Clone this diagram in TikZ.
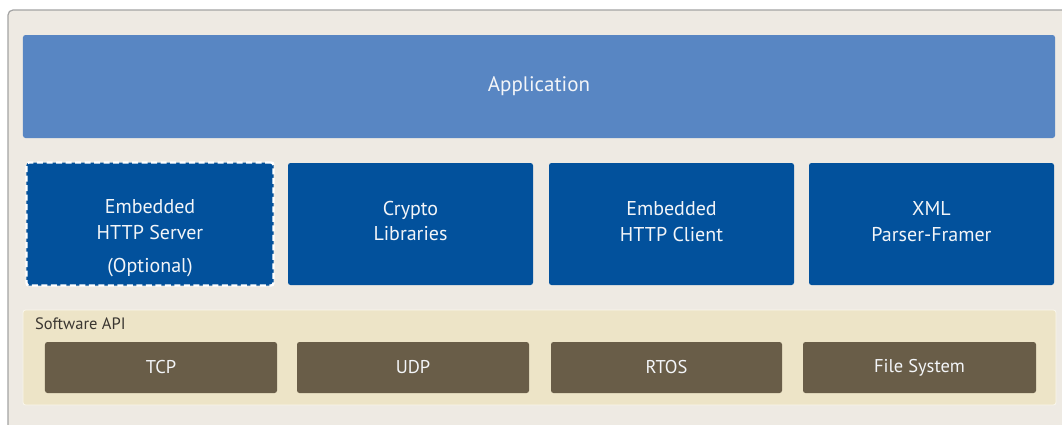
\documentclass[tikz,border=0pt]{standalone}
\usepackage{fontspec}
\setmainfont{PT Sans}
\definecolor{panelbg}{HTML}{EEEAE3}
\definecolor{panelline}{HTML}{A4A4A4}
\definecolor{appblue}{HTML}{5886C3}
\definecolor{modblue}{HTML}{02519C}
\definecolor{apibg}{HTML}{EDE4C7}
\definecolor{osbrown}{HTML}{695D48}
\definecolor{lighttext}{HTML}{F3F5F8}
\definecolor{darktext}{HTML}{3A3631}
\tikzset{
  panel/.style={fill=panelbg, draw=panelline, line width=1.2bp, rounded corners=5bp},
  box/.style={inner sep=0pt, rounded corners=2.5bp},
  appbox/.style={box, fill=appblue},
  modbox/.style={box, fill=modblue},
  optbox/.style={modbox, draw=white, line width=2.4bp, dash pattern=on 6bp off 3.5bp},
  apibox/.style={box, fill=apibg, draw=white!70!apibg, line width=0.8bp},
  osbox/.style={box, fill=osbrown},
  lbl/.style={text=lighttext, align=center, inner sep=0pt},
  applbl/.style={lbl, font=\fontsize{21bp}{26bp}\selectfont},
  modlbl/.style={lbl, font=\fontsize{20bp}{25.5bp}\selectfont},
  oslbl/.style={lbl, font=\fontsize{18.5bp}{22bp}\selectfont},
  small/.style={text=darktext, font=\fontsize{16.5bp}{18bp}\selectfont, inner sep=0pt}
}
\begin{document}
\begin{tikzpicture}[x=1bp, y=-1bp]
\useasboundingbox (0,0) rectangle (1062,424);
\clip (0,0) rectangle (1062,424);
% outer frame
\fill[white] (0,0) rectangle (1062,424);
\draw[panel] (8,10) rectangle (1080,440);

% application layer
\node[appbox, minimum width=1032bp, minimum height=103bp] (app) at (539,86.5) {};
\node[applbl] (apptext) at (app.center) {Application};

% middleware modules
\node[optbox, minimum width=247bp, minimum height=123bp] (srv) at (150,224) {};
\node[modbox, minimum width=245bp, minimum height=122bp] (crypto) at (410.5,224) {};
\node[modbox, minimum width=245bp, minimum height=122bp] (client) at (671.5,224) {};
\node[modbox, minimum width=245bp, minimum height=122bp] (xml) at (931.5,224) {};

\node[modlbl] (srvtext) at (150,238.5) {Embedded\\HTTP Server\\[8bp](Optional)};
\node[modlbl] (cryptotext) at (410.5,221) {Crypto\\Libraries};
\node[modlbl] (clienttext) at (671.5,221.5) {Embedded\\HTTP Client};
\node[modlbl] (xmltext) at (931.5,221.5) {XML\\Parser-Framer};

% software API
\node[apibox, minimum width=1033bp, minimum height=95bp] (api) at (539.5,357.5) {};
\node[small, anchor=west] (apitext) at (35,324) {Software API};

\node[osbox, minimum width=232bp, minimum height=51bp] (tcp) at (161,367.5) {};
\node[osbox, minimum width=232bp, minimum height=51bp] (udp) at (413,367.5) {};
\node[osbox, minimum width=231bp, minimum height=51bp] (rtos) at (666.5,367.5) {};
\node[osbox, minimum width=233bp, minimum height=51bp] (fs) at (919.5,367.5) {};

\node[oslbl] (tcptext) at (tcp.center) {TCP};
\node[oslbl] (udptext) at (udp.center) {UDP};
\node[oslbl] (rtostext) at (rtos.center) {RTOS};
\node[oslbl] (fstext) at (fs.center) {File System};
\end{tikzpicture}
\end{document}
